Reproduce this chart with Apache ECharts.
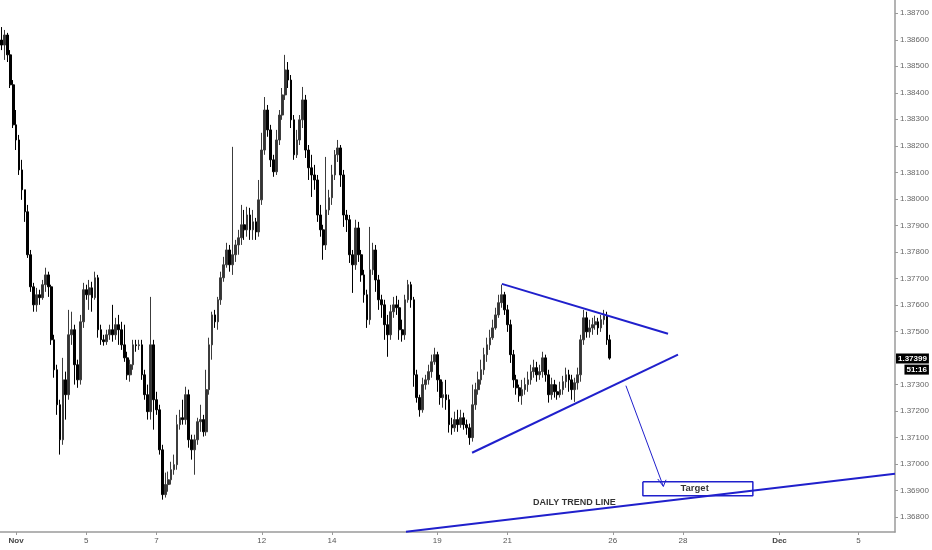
<!DOCTYPE html>
<html><head><meta charset="utf-8">
<script src="https://cdn.jsdelivr.net/npm/echarts@6/dist/echarts.min.js"></script>
<style>html,body{margin:0;padding:0;background:#fff}#c{width:932px;height:550px}</style>
</head><body><div id="c"></div>
<script>
// 2-hour candles, first bar 2018-10-31 14:00 (New York session time)
const opens = [
1.38599,1.38580,1.38618,1.38543,1.38430,1.38279,1.38222,1.38109,1.38034,1.37951,
1.37789,1.37668,1.37600,1.37638,1.37627,1.37676,1.37713,1.37668,1.37468,1.37355,
1.37223,1.37091,1.37317,1.37261,1.37487,1.37506,1.37374,1.37317,1.37536,1.37657,
1.37638,1.37664,1.37627,1.37702,1.37506,1.37468,1.37461,1.37487,1.37506,1.37487,
1.37525,1.37506,1.37449,1.37400,1.37336,1.37374,1.37449,1.37446,1.37449,1.37336,
1.37261,1.37197,1.37449,1.37242,1.37204,1.37053,1.36884,1.36922,1.36940,1.36978,
1.36997,1.37148,1.37174,1.37167,1.37261,1.37091,1.37053,1.37091,1.37159,1.37167,
1.37121,1.37280,1.37449,1.37562,1.37536,1.37619,1.37702,1.37751,1.37807,1.37751,
1.37789,1.37826,1.37853,1.37902,1.37883,1.37939,1.37883,1.37913,1.37875,1.37996,
1.38184,1.38335,1.38260,1.38147,1.38102,1.38222,1.38316,1.38392,1.38486,1.38448,
1.38298,1.38166,1.38222,1.38298,1.38373,1.38184,1.38117,1.38090,1.38071,1.37939,
1.37883,1.37826,1.37958,1.38004,1.38090,1.38166,1.38192,1.38090,1.37939,1.37921,
1.37789,1.37751,1.37890,1.37789,1.37713,1.37638,1.37544,1.37732,1.37807,1.37694,
1.37619,1.37600,1.37525,1.37487,1.37574,1.37600,1.37589,1.37506,1.37487,1.37619,
1.37676,1.37619,1.37336,1.37250,1.37204,1.37299,1.37317,1.37348,1.37385,1.37412,
1.37317,1.37250,1.37261,1.37242,1.37148,1.37136,1.37167,1.37148,1.37174,1.37148,
1.37136,1.37099,1.37223,1.37280,1.37317,1.37355,1.37412,1.37449,1.37476,1.37513,
1.37562,1.37608,1.37638,1.37581,1.37525,1.37412,1.37317,1.37287,1.37257,1.37280,
1.37299,1.37317,1.37348,1.37363,1.37336,1.37348,1.37400,1.37336,1.37261,1.37299,
1.37272,1.37261,1.37280,1.37310,1.37336,1.37317,1.37280,1.37306,1.37336,1.37468,
1.37551,1.37498,1.37513,1.37525,1.37536,1.37513,1.37544,1.37559,1.37468];
const closes = [
1.38580,1.38618,1.38543,1.38430,1.38279,1.38222,1.38109,1.38034,1.37951,1.37789,
1.37668,1.37600,1.37638,1.37627,1.37676,1.37713,1.37668,1.37468,1.37355,1.37223,
1.37091,1.37317,1.37261,1.37487,1.37506,1.37374,1.37317,1.37536,1.37657,1.37638,
1.37664,1.37627,1.37702,1.37506,1.37468,1.37461,1.37487,1.37506,1.37487,1.37525,
1.37506,1.37449,1.37400,1.37336,1.37374,1.37449,1.37446,1.37449,1.37336,1.37261,
1.37197,1.37449,1.37242,1.37204,1.37053,1.36884,1.36922,1.36940,1.36978,1.36997,
1.37148,1.37174,1.37167,1.37261,1.37091,1.37053,1.37091,1.37159,1.37167,1.37121,
1.37280,1.37449,1.37562,1.37536,1.37619,1.37702,1.37751,1.37807,1.37751,1.37789,
1.37826,1.37853,1.37902,1.37883,1.37939,1.37883,1.37913,1.37875,1.37996,1.38184,
1.38335,1.38260,1.38147,1.38102,1.38222,1.38316,1.38392,1.38486,1.38448,1.38298,
1.38166,1.38222,1.38298,1.38373,1.38184,1.38117,1.38090,1.38071,1.37939,1.37883,
1.37826,1.37958,1.38004,1.38090,1.38166,1.38192,1.38090,1.37939,1.37921,1.37789,
1.37751,1.37890,1.37789,1.37713,1.37638,1.37544,1.37732,1.37807,1.37694,1.37619,
1.37600,1.37525,1.37487,1.37574,1.37600,1.37589,1.37506,1.37487,1.37619,1.37676,
1.37619,1.37336,1.37250,1.37204,1.37299,1.37317,1.37348,1.37385,1.37412,1.37317,
1.37250,1.37261,1.37242,1.37148,1.37136,1.37167,1.37148,1.37174,1.37148,1.37136,
1.37099,1.37223,1.37280,1.37317,1.37355,1.37412,1.37449,1.37476,1.37513,1.37562,
1.37608,1.37638,1.37581,1.37525,1.37412,1.37317,1.37287,1.37257,1.37280,1.37299,
1.37317,1.37348,1.37363,1.37336,1.37348,1.37400,1.37336,1.37261,1.37299,1.37272,
1.37261,1.37280,1.37310,1.37336,1.37317,1.37280,1.37306,1.37336,1.37468,1.37551,
1.37498,1.37513,1.37525,1.37536,1.37513,1.37544,1.37559,1.37468,1.37399];
const lows = [
1.38561,1.38524,1.38516,1.38418,1.38267,1.38184,1.38090,1.37996,1.37913,1.37777,
1.37649,1.37574,1.37574,1.37600,1.37619,1.37649,1.37630,1.37449,1.37325,1.37185,
1.37035,1.37072,1.37167,1.37242,1.37449,1.37299,1.37287,1.37299,1.37513,1.37619,
1.37581,1.37574,1.37619,1.37476,1.37449,1.37446,1.37449,1.37468,1.37461,1.37468,
1.37449,1.37430,1.37385,1.37317,1.37310,1.37355,1.37423,1.37430,1.37317,1.37242,
1.37167,1.37167,1.37129,1.37185,1.37035,1.36865,1.36873,1.36895,1.36922,1.36959,
1.36978,1.37129,1.37148,1.37148,1.37061,1.37016,1.36959,1.37072,1.37121,1.37103,
1.37106,1.37261,1.37393,1.37513,1.37506,1.37600,1.37687,1.37740,1.37725,1.37713,
1.37762,1.37789,1.37826,1.37845,1.37857,1.37845,1.37845,1.37845,1.37857,1.37977,
1.38166,1.38234,1.38120,1.38083,1.38090,1.38203,1.38298,1.38373,1.38418,1.38267,
1.38147,1.38154,1.38203,1.38267,1.38154,1.38071,1.38007,1.38034,1.37913,1.37857,
1.37770,1.37807,1.37939,1.37977,1.38071,1.38139,1.38045,1.37894,1.37875,1.37758,
1.37645,1.37732,1.37762,1.37687,1.37608,1.37513,1.37525,1.37713,1.37649,1.37581,
1.37551,1.37468,1.37404,1.37468,1.37551,1.37562,1.37468,1.37461,1.37468,1.37608,
1.37589,1.37291,1.37231,1.37178,1.37193,1.37280,1.37299,1.37325,1.37374,1.37272,
1.37223,1.37212,1.37204,1.37118,1.37110,1.37121,1.37121,1.37136,1.37129,1.37110,
1.37072,1.37084,1.37204,1.37261,1.37299,1.37336,1.37385,1.37430,1.37468,1.37506,
1.37551,1.37589,1.37562,1.37498,1.37381,1.37287,1.37261,1.37234,1.37223,1.37261,
1.37272,1.37299,1.37325,1.37310,1.37317,1.37325,1.37310,1.37231,1.37242,1.37250,
1.37242,1.37250,1.37261,1.37287,1.37272,1.37242,1.37234,1.37280,1.37310,1.37449,
1.37476,1.37476,1.37487,1.37506,1.37487,1.37498,1.37525,1.37449,1.37393];
const highs = [
1.38648,1.38637,1.38626,1.38561,1.38448,1.38335,1.38241,1.38147,1.38034,1.37977,
1.37807,1.37683,1.37664,1.37657,1.37694,1.37740,1.37725,1.37676,1.37487,1.37374,
1.37242,1.37400,1.37348,1.37581,1.37574,1.37525,1.37393,1.37562,1.37683,1.37676,
1.37694,1.37687,1.37725,1.37713,1.37525,1.37487,1.37506,1.37525,1.37600,1.37551,
1.37562,1.37536,1.37525,1.37423,1.37393,1.37468,1.37468,1.37468,1.37468,1.37355,
1.37299,1.37630,1.37468,1.37272,1.37223,1.37072,1.36967,1.36971,1.37008,1.37035,
1.37185,1.37204,1.37242,1.37291,1.37280,1.37110,1.37110,1.37174,1.37223,1.37185,
1.37355,1.37476,1.37574,1.37581,1.37630,1.37725,1.37781,1.37834,1.37826,1.38196,
1.37845,1.37883,1.37977,1.37958,1.37970,1.37966,1.37958,1.37928,1.38071,1.38249,
1.38384,1.38354,1.38279,1.38166,1.38260,1.38335,1.38418,1.38543,1.38516,1.38467,
1.38316,1.38260,1.38316,1.38422,1.38392,1.38203,1.38166,1.38128,1.38090,1.37977,
1.37902,1.38158,1.38034,1.38128,1.38184,1.38222,1.38203,1.38109,1.37958,1.37939,
1.37807,1.37921,1.37913,1.37807,1.37732,1.37657,1.37894,1.37834,1.37826,1.37713,
1.37638,1.37619,1.37562,1.37600,1.37630,1.37634,1.37619,1.37544,1.37638,1.37694,
1.37687,1.37630,1.37355,1.37261,1.37325,1.37336,1.37374,1.37412,1.37438,1.37423,
1.37336,1.37310,1.37317,1.37261,1.37174,1.37197,1.37204,1.37204,1.37193,1.37167,
1.37152,1.37299,1.37306,1.37348,1.37393,1.37438,1.37476,1.37506,1.37544,1.37589,
1.37638,1.37676,1.37649,1.37600,1.37544,1.37430,1.37336,1.37299,1.37317,1.37325,
1.37348,1.37374,1.37393,1.37385,1.37374,1.37423,1.37412,1.37355,1.37325,1.37317,
1.37299,1.37310,1.37332,1.37363,1.37355,1.37336,1.37325,1.37363,1.37487,1.37581,
1.37574,1.37544,1.37551,1.37559,1.37551,1.37562,1.37581,1.37574,1.37487];

const yTickValues = [1.368,1.369,1.370,1.371,1.372,1.373,1.375,1.376,1.377,1.378,1.379,1.380,1.381,1.382,1.383,1.384,1.385,1.386,1.387];
const xTickSlots = ['2018-11-01 00:00','2018-11-05 00:00','2018-11-07 00:00','2018-11-12 00:00','2018-11-14 00:00','2018-11-19 00:00','2018-11-21 00:00','2018-11-26 00:00','2018-11-28 00:00','2018-12-02 18:00','2018-12-05 00:00'];
const xTickLabels = ['Nov','5','7','12','14','19','21','26','28','Dec','5'];
const monthLabels = ['Nov','Dec'];
const lastPrice = 1.37399;
const countdown = '51:16';

// hand-drawn annotations, in [bar position, price]
const triangleUpper = [[171.1,1.37679],[227.9,1.37491]];
const triangleLower = [[160.9,1.37042],[231.3,1.37412]];
const dailyTrend = [[138.3,1.36744],[305.5,1.36963]];
const arrowShaft = [[213.5,1.37295],[226.3,1.36915]];
const arrowHead = [[224.4,1.36943],[226.3,1.36915],[227.2,1.36940]];
const targetBox = [[219.3,1.36933],[256.9,1.36880]];
const notes = [{name:'Target', value:[237.0,1.36907], size:9.5},{name:'DAILY TREND LINE', value:[195.9,1.36854], size:9}];

const N_SLOTS = 306;
function pad(n){return (n<10?'0':'')+n;}
function buildSlots(n){
  const out=[]; let t=Date.UTC(2018,9,31,14);
  while(out.length<n){
    const d=new Date(t), dow=d.getUTCDay(), h=d.getUTCHours();
    const closed=(dow===5&&h>=17)||dow===6||(dow===0&&h<17);
    if(!closed) out.push(d.getUTCFullYear()+'-'+pad(d.getUTCMonth()+1)+'-'+pad(d.getUTCDate())+' '+pad(h)+':00');
    t+=2*3600e3;
  }
  return out;
}
const slots = buildSlots(N_SLOTS);
const candles = opens.map((o,i)=>[o,closes[i],lows[i],highs[i]]);

const BLUE = '#2020cc';
const FONT = 'Liberation Sans, Arial, sans-serif';
const rect = [targetBox[0],[targetBox[1][0],targetBox[0][1]],targetBox[1],[targetBox[0][0],targetBox[1][1]],targetBox[0]];
function lineSeries(data,width){
  return {type:'line',xAxisIndex:1,yAxisIndex:0,data:data,symbol:'none',silent:true,z:5,
    lineStyle:{color:BLUE,width:width},animation:false};
}

const chart = echarts.init(document.getElementById('c'),null,{renderer:'canvas'});
chart.setOption({
  animation:false,
  backgroundColor:'#ffffff',
  grid:{left:0,right:37,top:0,bottom:18,containLabel:false},
  xAxis:[{
    type:'category',data:slots,boundaryGap:true,
    axisLine:{show:true,onZero:false,lineStyle:{color:'#9a9a9a',width:1.5}},
    axisTick:{show:true,alignWithLabel:true,length:3,lineStyle:{color:'#9a9a9a'},
      interval:(i,v)=>xTickSlots.indexOf(v)>=0},
    axisLabel:{show:true,interval:(i,v)=>xTickSlots.indexOf(v)>=0,margin:5,
      color:'#555',fontSize:8,fontFamily:FONT,
      formatter:(v)=>{const k=xTickSlots.indexOf(v); if(k<0) return ''; const s=xTickLabels[k];
        return monthLabels.indexOf(s)>=0?'{b|'+s+'}':s;},
      rich:{b:{fontWeight:'bold',color:'#444',fontSize:8,fontFamily:FONT}}},
    splitLine:{show:false}
  },{
    type:'value',min:-0.5,max:N_SLOTS-0.5,show:false,
    axisLine:{onZero:false}
  }],
  yAxis:[{
    type:'value',position:'right',min:1.36743,max:1.3875,scale:true,
    axisLine:{show:true,onZero:false,lineStyle:{color:'#9a9a9a',width:1.5}},
    axisTick:{show:true,length:3,lineStyle:{color:'#9a9a9a'},customValues:yTickValues},
    axisLabel:{show:true,margin:5,color:'#666',fontSize:8,fontFamily:FONT,
      customValues:yTickValues,formatter:(v)=>v.toFixed(5)},
    splitLine:{show:false}
  }],
  series:[
    {type:'candlestick',xAxisIndex:0,yAxisIndex:0,data:candles,barWidth:2.2,z:3,
      itemStyle:{color:'#333333',color0:'#000000',borderColor:'#3c3c3c',borderColor0:'#000000',borderWidth:1},
      markLine:{silent:true,symbol:['none','none'],animation:false,precision:5,
        lineStyle:{width:0,color:'rgba(0,0,0,0)'},
        data:[{yAxis:lastPrice}],
        label:{show:true,position:'end',distance:1,offset:[0,6],
          formatter:()=>'{p|'+lastPrice.toFixed(5)+'}\n{t|'+countdown+'}',
          rich:{
            p:{backgroundColor:'#000',color:'#fff',fontWeight:'bold',fontSize:8,padding:[1,2,1,2],lineHeight:11,fontFamily:FONT},
            t:{backgroundColor:'#000',color:'#fff',fontWeight:'bold',fontSize:8,padding:[1,2,1,2],lineHeight:11,align:'right',fontFamily:FONT}
          }}}
    },
    lineSeries(triangleUpper,2),
    lineSeries(triangleLower,2),
    lineSeries(dailyTrend,2),
    lineSeries(arrowShaft,1),
    lineSeries(arrowHead,1),
    lineSeries(rect,1.5),
    {type:'scatter',xAxisIndex:1,yAxisIndex:0,symbolSize:0,silent:true,z:6,animation:false,
      data:notes.map(n=>({name:n.name,value:n.value,label:{fontSize:n.size}})),
      label:{show:true,position:'inside',formatter:'{b}',color:'#000',fontWeight:'bold',fontFamily:FONT}}
  ]
});
</script></body></html>
